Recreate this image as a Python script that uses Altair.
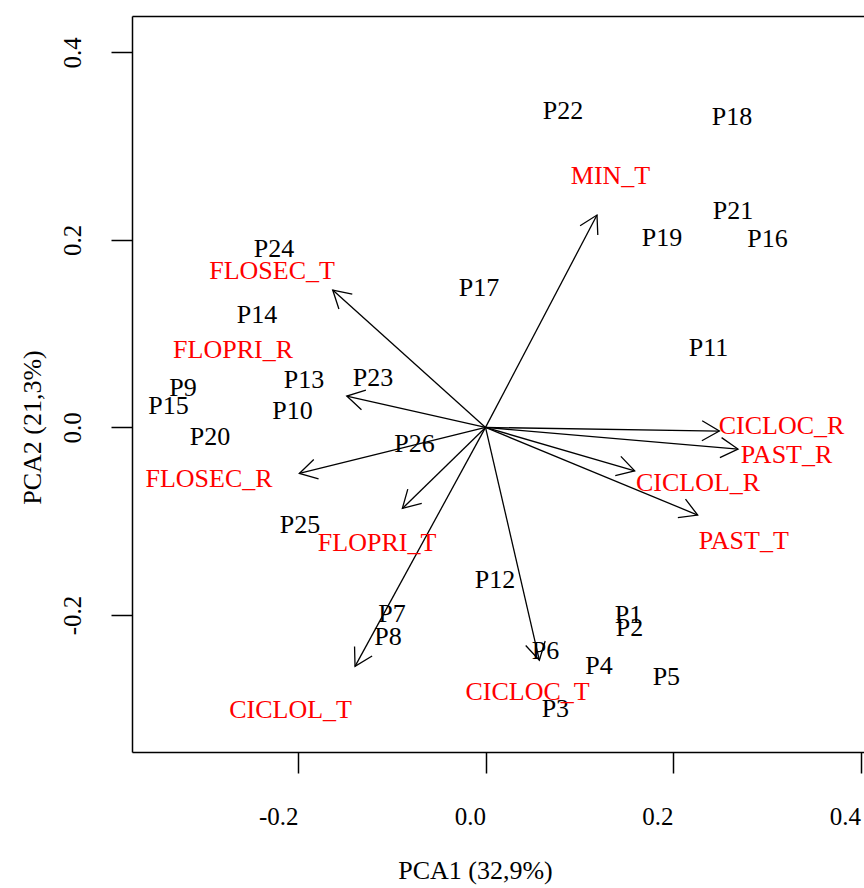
import math
import altair as alt
import pandas as pd

# Sample scores on the first two principal components
obs_names = ["P1", "P2", "P3", "P4", "P5", "P6", "P7", "P8", "P9", "P10", "P11", "P12", "P13",
             "P14", "P15", "P16", "P17", "P18", "P19", "P20", "P21", "P22", "P23", "P24", "P25", "P26"]
obs_pc1 = [0.1525, 0.1536, 0.0745, 0.1211, 0.1929, 0.0640, -0.0997, -0.1040, -0.3227, -0.2059,
           0.2379, 0.0101, -0.1936, -0.2437, -0.3381, 0.3008, -0.0069, 0.2629, 0.1883, -0.2939,
           0.2640, 0.0827, -0.1200, -0.2256, -0.1979, -0.0757]
obs_pc2 = [-0.1997, -0.2135, -0.3005, -0.2546, -0.2663, -0.2386, -0.1991, -0.2237, 0.0419, 0.0179,
           0.0846, -0.1629, 0.0510, 0.1203, 0.0227, 0.2009, 0.1491, 0.3315, 0.2025, -0.0103,
           0.2307, 0.3374, 0.0526, 0.1907, -0.1042, -0.0178]

# Variable loadings (arrow tips) and where their names are written
var_names = ["MIN_T", "CICLOC_R", "PAST_R", "CICLOL_R", "PAST_T", "CICLOC_T",
             "CICLOL_T", "FLOPRI_T", "FLOSEC_R", "FLOPRI_R", "FLOSEC_T"]
var_pc1 = [0.1189, 0.2494, 0.2693, 0.1591, 0.2263, 0.0574, -0.1392, -0.0887, -0.1986, -0.1480, -0.1630]
var_pc2 = [0.2265, -0.0039, -0.0231, -0.0463, -0.0935, -0.2482, -0.2549, -0.0864, -0.0491, 0.0334, 0.1465]
lab_pc1 = [0.1333, 0.3157, 0.3211, 0.2267, 0.2754, 0.0448, -0.2080, -0.1157, -0.2949, -0.2693, -0.2277]
lab_pc2 = [0.2680, 0.0019, -0.0295, -0.0589, -0.1207, -0.2823, -0.3015, -0.1234, -0.0551, 0.0830, 0.1667]

tick_values = [-0.2, 0.0, 0.2, 0.4]

obs = pd.DataFrame({"name": obs_names, "pc1": obs_pc1, "pc2": obs_pc2})
var = pd.DataFrame({"name": var_names, "pc1": var_pc1, "pc2": var_pc2,
                    "lx": lab_pc1, "ly": lab_pc2})
var["o1"] = 0.0
var["o2"] = 0.0
# heading of each arrow, clockwise from "up", for rotating the arrowhead symbol
var["ang"] = [(math.degrees(math.atan2(a, b)) + 360) % 360 for a, b in zip(var_pc1, var_pc2)]

FONT = "Liberation Serif"
xs = alt.Scale(domain=[-0.3771, 0.4037], nice=False, zero=False)
ys = alt.Scale(domain=[-0.3462, 0.4388], nice=False, zero=False)
label_expr = "replace(format(datum.value, '.1f'), '\u2212', '-')"

x_axis = alt.Axis(values=tick_values, labelExpr=label_expr, grid=False,
                  domainColor="black", domainWidth=1.5, tickColor="black", tickWidth=1.5,
                  tickSize=21, labelFont=FONT, labelFontSize=25, labelColor="black",
                  labelAlign="right", labelBaseline="alphabetic", labelPadding=51,
                  labelFlush=False, labelOverlap=False,
                  title="PCA1 (32,9%)", titleFont=FONT, titleFontSize=26, titleFontWeight="normal",
                  titleColor="black", titleX=343, titleY=126, titleAlign="center",
                  titleBaseline="alphabetic")
y_axis = alt.Axis(values=tick_values, labelExpr=label_expr, grid=False,
                  domainColor="black", domainWidth=1.5, tickColor="black", tickWidth=1.5,
                  tickSize=21, labelFont=FONT, labelFontSize=25, labelColor="black",
                  labelAngle=270, labelAlign="center", labelBaseline="alphabetic",
                  labelPadding=31, labelFlush=False, labelOverlap=False,
                  title="PCA2 (21,3%)", titleFont=FONT, titleFontSize=26, titleFontWeight="normal",
                  titleColor="black", titleAngle=270, titleX=-92, titleY=411,
                  titleAlign="center", titleBaseline="alphabetic")
top_axis = alt.Axis(orient="top", labels=False, ticks=False, grid=False, title=None,
                    domainColor="black", domainWidth=1.5)

arrows = alt.Chart(var).mark_rule(color="black", strokeWidth=1.3).encode(
    x=alt.X("o1:Q", scale=xs, axis=top_axis),
    y=alt.Y("o2:Q", scale=ys, axis=None),
    x2="pc1:Q",
    y2="pc2:Q",
)

heads = alt.Chart(var).mark_point(
    shape="M-0.5,0.866L0,0L0.5,0.866", filled=False, size=1600,
    color="black", strokeWidth=1.3, opacity=1,
).encode(
    x=alt.X("pc1:Q", scale=xs, axis=None),
    y=alt.Y("pc2:Q", scale=ys, axis=None),
    angle=alt.Angle("ang:Q", scale=None),
)

obs_text = alt.Chart(obs).mark_text(
    font=FONT, fontSize=26, color="black", align="center", baseline="middle"
).encode(
    x=alt.X("pc1:Q", scale=xs, axis=x_axis),
    y=alt.Y("pc2:Q", scale=ys, axis=y_axis),
    text="name:N",
)

var_text = alt.Chart(var).mark_text(
    font=FONT, fontSize=26, color="#ff0000", align="center", baseline="middle"
).encode(
    x=alt.X("lx:Q", scale=xs, axis=None),
    y=alt.Y("ly:Q", scale=ys, axis=None),
    text="name:N",
)

chart = alt.layer(arrows, heads, obs_text, var_text).resolve_axis(
    x="independent", y="independent"
).properties(
    width=732,
    height=736,
    padding={"left": 132, "top": 16, "right": 0, "bottom": 136},
    autosize=alt.AutoSizeParams(type="none"),
    background="white",
).configure_view(strokeWidth=0)

chart.save("out.html", embed_options={"renderer": "svg", "actions": False})
